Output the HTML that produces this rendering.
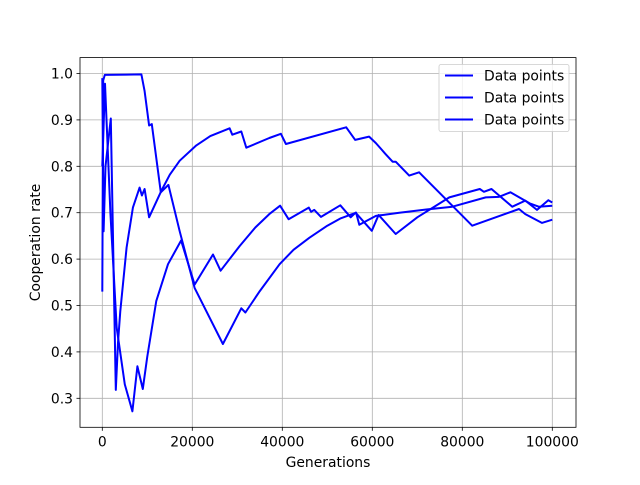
<!DOCTYPE html>
<html><head><meta charset="utf-8"><style>
body{margin:0;background:#fff;font-family:"Liberation Sans","DejaVu Sans",sans-serif}
text{font-family:"DejaVu Sans","Liberation Sans",sans-serif}
</style></head><body>
<svg id="chart" width="640" height="480" xmlns="http://www.w3.org/2000/svg"></svg>
<script>
const xTicks=[0,20000,40000,60000,80000,100000];
const yTicks=[0.3,0.4,0.5,0.6,0.7,0.8,0.9,1.0];
const seriesNames=["Data points","Data points","Data points"];
const aX=[0,200,550,8700,9400,10400,11000,13000,14700,17200,20500,26800,30900,31800,35000,39400,42500,46000,50000,53000,56400,57100,60800,66000,72000,77800,85200,88100,90700,95000,97000,100000];
const aY=[0.53,0.985,0.997,0.998,0.962,0.888,0.891,0.744,0.76,0.66,0.538,0.417,0.494,0.485,0.531,0.589,0.62,0.646,0.672,0.688,0.70,0.674,0.693,0.70,0.707,0.713,0.733,0.734,0.744,0.72,0.713,0.715];
const bX=[0,300,700,1900,3000,3500,4000,5400,6800,8300,8800,9400,10400,13100,15000,17200,20900,24000,28300,28900,30900,32000,37100,39700,40800,54200,56200,59300,60800,62900,64500,65200,68200,70400,82200,92600,94000,97700,100000];
const bY=[0.99,0.66,0.80,0.903,0.318,0.42,0.488,0.625,0.711,0.754,0.737,0.751,0.69,0.747,0.782,0.812,0.845,0.865,0.882,0.868,0.875,0.84,0.861,0.870,0.848,0.884,0.857,0.864,0.85,0.827,0.81,0.81,0.78,0.787,0.672,0.708,0.697,0.678,0.685];
const cX=[0,600,1800,3200,5000,6700,7800,9000,10000,12000,14600,17500,20500,24600,26300,30500,34000,37100,39500,41400,45900,46400,47100,48600,52900,55200,56300,59900,61400,65200,70000,77100,83900,84800,86500,91100,94000,96600,99100,100000];
const cY=[0.8,0.978,0.70,0.452,0.33,0.272,0.369,0.32,0.39,0.51,0.589,0.64,0.545,0.61,0.575,0.628,0.668,0.697,0.715,0.686,0.711,0.702,0.706,0.691,0.716,0.69,0.70,0.661,0.695,0.654,0.69,0.733,0.751,0.745,0.751,0.713,0.726,0.706,0.727,0.722];
const L=80,R=576,T=57.6,B=427.3;
const xs=v=>102.3+v*(90/20000);
const ys=v=>398.3-(v-0.3)*464;
const svg=document.getElementById('chart');
const NS='http://www.w3.org/2000/svg';
function mk(t,a,p){const e=document.createElementNS(NS,t);for(const k in a)e.setAttribute(k,a[k]);(p||svg).appendChild(e);return e;}
const grid=mk('g',{});


xTicks.forEach(v=>{const x=xs(v);
 mk('line',{x1:x,x2:x,y1:T,y2:B,stroke:'#b0b0b0','stroke-width':0.8},grid);
 mk('line',{x1:x,x2:x,y1:B,y2:B+3.5,stroke:'#000','stroke-width':0.8});
 const t=mk('text',{x:x,y:B+19,'font-size':13.9,'text-anchor':'middle',fill:'#000'});t.textContent=v;
 
 });
yTicks.forEach(v=>{const y=ys(v);
 mk('line',{x1:L,x2:R,y1:y,y2:y,stroke:'#b0b0b0','stroke-width':0.8},grid);
 mk('line',{x1:L-3.5,x2:L,y1:y,y2:y,stroke:'#000','stroke-width':0.8});
 const t=mk('text',{x:L-7,y:y+5,'font-size':13.9,'text-anchor':'end',fill:'#000'});t.textContent=v.toFixed(1);
 
 });
[[aX,aY],[bX,bY],[cX,cY]].forEach((s,i)=>{
 const d=s[0].map((x,j)=>(j?'L':'M')+xs(x).toFixed(1)+','+ys(s[1][j]).toFixed(1)).join('');
 const p=mk('path',{d:d,fill:'none',stroke:'#0000ff','stroke-width':2,'stroke-linejoin':'round'});
 
 });
const frame=mk('rect',{x:L,y:T,width:R-L,height:B-T,fill:'none',stroke:'#000','stroke-width':0.8});


const xl=mk('text',{x:(L+R)/2,y:467,'font-size':13.9,'text-anchor':'middle'});xl.textContent='Generations';


const yl=mk('text',{x:0,y:0,'font-size':13.9,'text-anchor':'middle',transform:'translate(40,'+((T+B)/2)+') rotate(-90)'});yl.textContent='Cooperation rate';


const lg=mk('g',{});


mk('rect',{x:439,y:64.5,width:130,height:67,rx:2,fill:'#fff','fill-opacity':0.8,stroke:'#ccc','stroke-width':0.8},lg);
seriesNames.forEach((n,i)=>{const y=75.5+i*22;
 const e=mk('g',{},lg);
 
 
 mk('line',{x1:445,x2:473,y1:y,y2:y,stroke:'#0000ff','stroke-width':2},e);
 const t=mk('text',{x:484,y:y+5,'font-size':13.9},e);t.textContent=n;});
</script>
</body></html>
